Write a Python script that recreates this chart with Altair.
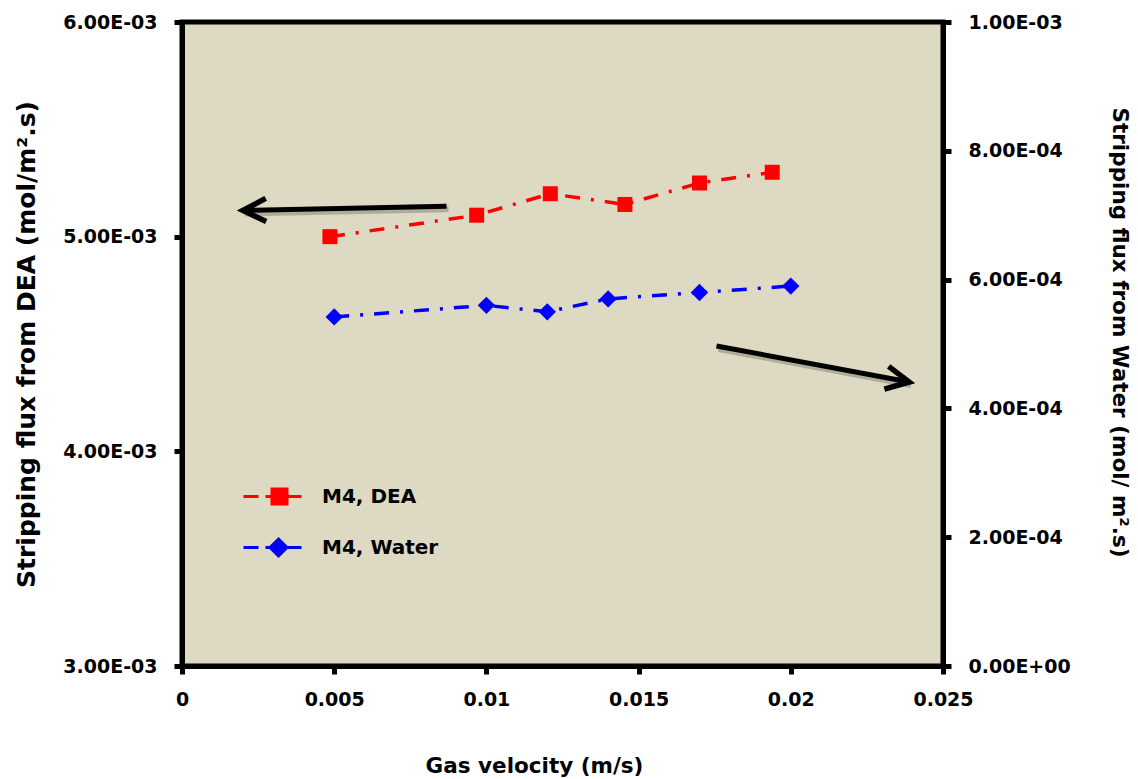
import altair as alt
import pandas as pd

# ---- data ----
dea_velocity = [0.00486, 0.00968, 0.0121, 0.01455, 0.0170, 0.01939]
dea_flux = [5.00e-3, 5.10e-3, 5.20e-3, 5.15e-3, 5.25e-3, 5.30e-3]
water_velocity = [0.005, 0.010, 0.012, 0.014, 0.017, 0.020]
water_flux = [5.42e-4, 5.60e-4, 5.50e-4, 5.70e-4, 5.80e-4, 5.90e-4]
series_names = ["M4, DEA", "M4, Water"]
series_colors = ["#FF0000", "#0000FF"]

x_ticks = [0, 0.005, 0.01, 0.015, 0.02, 0.025]
left_ticks = [0.003, 0.004, 0.005, 0.006]
right_ticks = [0, 0.0002, 0.0004, 0.0006, 0.0008, 0.001]

# annotation arrows (start, tip) in data units
arrow_left_x = [0.00869, 0.0020]
arrow_left_y = [5.142e-3, 5.122e-3]
arrow_right_x = [0.01756, 0.02389]
arrow_right_y = [4.97e-4, 4.41e-4]
arrow_angles = [178.7, 10.6]

FONT = "DejaVu Sans"
BG = "#DDD9C3"
DASH = [15, 11, 3, 11]
CHEVRON = "M-1.1,-0.55L0,0L-1.1,0.55"
LEGEND_PATHS = [
    "M-1.16,0L-0.56,0M-0.28,0L1.16,0M-0.02,-0.3L0.58,-0.3L0.58,0.3L-0.02,0.3Z",
    "M-1.16,0L-0.56,0M-0.28,0L1.16,0M0.24,-0.34L0.58,0L0.24,0.34L-0.1,0Z",
]

dea_df = pd.DataFrame({"x": dea_velocity, "y": dea_flux})
water_df = pd.DataFrame({"x": water_velocity, "y": water_flux})
arrow1_df = pd.DataFrame({"x": arrow_left_x, "y": arrow_left_y})
arrow2_df = pd.DataFrame({"x": arrow_right_x, "y": arrow_right_y})
legend_df = pd.DataFrame({"series": series_names})

label_expr = "replace(replace(format(datum.value, '.2e'), 'e-', 'E-0'), 'e+', 'E+0')"

x_scale = alt.Scale(domain=[0, 0.025], nice=False, zero=False)
left_scale = alt.Scale(domain=[0.003, 0.006], nice=False, zero=False)
right_scale = alt.Scale(domain=[0, 0.001], nice=False, zero=False)

common_axis = dict(
    labelFont=FONT, labelFontSize=19, labelFontWeight="bold", labelColor="black",
    titleFont=FONT, titleFontWeight="bold", titleColor="black",
    domainColor="black", domainWidth=5, tickColor="black", tickWidth=5, tickSize=8,
    grid=False, labelFlush=False, labelOverlap=False,
)

x_axis = alt.Axis(values=x_ticks, format=".3~f", title="Gas velocity (m/s)",
                  titleFontSize=21.5, labelPadding=16, titlePadding=46, titleX=352,
                  **common_axis)
left_axis = alt.Axis(orient="left", values=left_ticks, labelExpr=label_expr,
                     title="Stripping flux from DEA (mol/m\u00b2.s)", titleFontSize=25,
                     labelPadding=17, titlePadding=23, **common_axis)
right_axis = alt.Axis(orient="right", values=right_ticks, labelExpr=label_expr,
                      title="Stripping flux from Water (mol/ m\u00b2.s)", titleFontSize=21.5,
                      labelPadding=17, titlePadding=37, titleY=310, **common_axis)


def xenc(axis=None):
    if axis is None:
        return alt.X("x:Q", scale=x_scale)
    return alt.X("x:Q", scale=x_scale, axis=axis)


# ---- DEA group (left axis) ----
dea_line = alt.Chart(dea_df).mark_line(color=series_colors[0], strokeWidth=3.5, strokeDash=DASH).encode(
    x=xenc(x_axis), y=alt.Y("y:Q", scale=left_scale, axis=left_axis))
dea_pts = alt.Chart(dea_df).mark_point(shape="square", filled=True, size=225, color=series_colors[0], opacity=1).encode(
    x=xenc(), y=alt.Y("y:Q", scale=left_scale))
arrow1_shadow = alt.Chart(arrow1_df).mark_line(color="#5a5a50", strokeWidth=6, opacity=0.35, xOffset=2, yOffset=3).encode(
    x=xenc(), y=alt.Y("y:Q", scale=left_scale))
arrow1 = alt.Chart(arrow1_df).mark_line(color="black", strokeWidth=5).encode(
    x=xenc(), y=alt.Y("y:Q", scale=left_scale))
arrow1_head = alt.Chart(arrow1_df.iloc[[1]]).mark_point(
    shape=CHEVRON, filled=False, size=1764, strokeWidth=5.5, color="black", opacity=1,
    angle=arrow_angles[0], strokeJoin="miter").encode(x=xenc(), y=alt.Y("y:Q", scale=left_scale))
group_a = alt.layer(dea_line, arrow1_shadow, arrow1, arrow1_head, dea_pts)

# ---- Water group (right axis) ----
water_line = alt.Chart(water_df).mark_line(color=series_colors[1], strokeWidth=3.5, strokeDash=DASH).encode(
    x=xenc(), y=alt.Y("y:Q", scale=right_scale, axis=right_axis))
water_pts = alt.Chart(water_df).mark_point(shape="diamond", filled=True, size=300, color=series_colors[1], opacity=1).encode(
    x=xenc(), y=alt.Y("y:Q", scale=right_scale))
arrow2_shadow = alt.Chart(arrow2_df).mark_line(color="#5a5a50", strokeWidth=6, opacity=0.35, xOffset=2, yOffset=3).encode(
    x=xenc(), y=alt.Y("y:Q", scale=right_scale))
arrow2 = alt.Chart(arrow2_df).mark_line(color="black", strokeWidth=5).encode(
    x=xenc(), y=alt.Y("y:Q", scale=right_scale))
arrow2_head = alt.Chart(arrow2_df.iloc[[1]]).mark_point(
    shape=CHEVRON, filled=False, size=1764, strokeWidth=5.5, color="black", opacity=1,
    angle=arrow_angles[1], strokeJoin="miter").encode(x=xenc(), y=alt.Y("y:Q", scale=right_scale))
group_b = alt.layer(water_line, arrow2_shadow, arrow2, arrow2_head, water_pts)

# ---- legend (symbols drawn off-canvas, legend only) ----
legend_def = dict(orient="none", legendX=64, legendY=448, title=None,
                  labelFont=FONT, labelFontSize=20, labelFontWeight="bold", labelColor="black",
                  symbolSize=2500, symbolStrokeWidth=3, labelOffset=23, rowPadding=11, padding=0,
                  labelLimit=400)
legend_layer = alt.Chart(legend_df).mark_point(filled=True, strokeWidth=3, opacity=1, clip=True).encode(
    x=alt.value(-2000), y=alt.value(-2000),
    fill=alt.Fill("series:N", scale=alt.Scale(domain=series_names, range=series_colors), legend=alt.Legend(**legend_def)),
    stroke=alt.Stroke("series:N", scale=alt.Scale(domain=series_names, range=series_colors), legend=alt.Legend(**legend_def)),
    shape=alt.Shape("series:N", scale=alt.Scale(domain=series_names, range=LEGEND_PATHS), legend=alt.Legend(**legend_def)),
)

chart = alt.layer(group_a, group_b, legend_layer).resolve_scale(
    y="independent"
).properties(
    width=761, height=644,
    padding={"left": 182, "top": 22, "right": 195, "bottom": 113},
    autosize=alt.AutoSizeParams(type="none"),
    background="white",
).configure_view(stroke="black", strokeWidth=5, fill=BG)

chart.save("out.html", embed_options={"renderer": "svg", "actions": False})
